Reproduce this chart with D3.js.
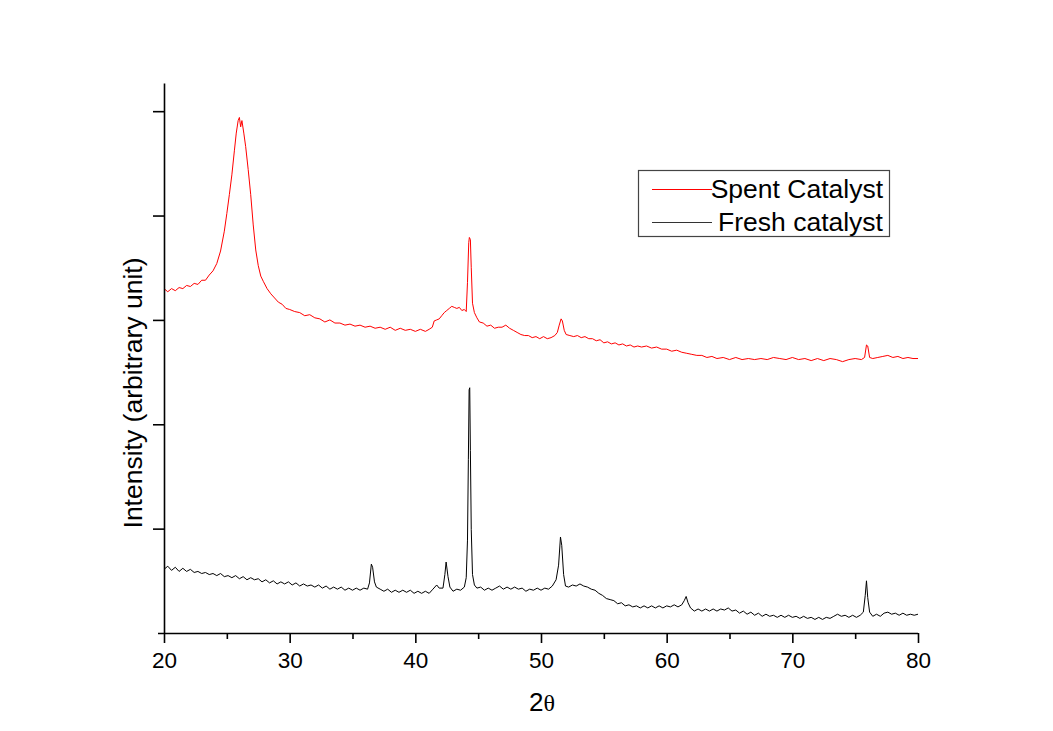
<!DOCTYPE html>
<html>
<head>
<meta charset="utf-8">
<script src="https://cdn.jsdelivr.net/npm/d3@7"></script>
<style>
  html, body { margin: 0; padding: 0; background: #fff; }
  svg { display: block; }
  text { font-family: "Liberation Sans", Arial, sans-serif; fill: #000; }
</style>
</head>
<body>
<svg id="chart" width="1053" height="731"></svg>
<script>
// ---- data (2θ in degrees, intensity in arbitrary units) ----
const xTicks = [20, 30, 40, 50, 60, 70, 80];
const xMinorTicks = [25, 35, 45, 55, 65, 75];
const yTicks = [100, 200, 300, 400, 500];
const seriesNames = ["Spent Catalyst", "Fresh catalyst"];

const spent = [
  [20.0,330],[20.3,327],[20.6,330],[20.9,328],[21.2,331],[21.5,330],[21.8,333],[22.1,332],
  [22.4,335],[22.7,334],[23.0,338],[23.3,338],[23.6,343],[23.9,347],[24.2,354],[24.5,366],
  [24.8,385],[25.0,402],[25.2,420],[25.4,439],[25.6,462],[25.75,479],[25.9,491],[26.0,494],
  [26.1,485],[26.2,491],[26.35,479],[26.5,466],[26.7,444],[26.9,420],[27.1,391],[27.3,367],
  [27.5,352],[27.7,342],[27.9,337],[28.2,330],[28.5,325],[28.8,321],[29.1,317],[29.4,315],
  [29.7,311],[30.0,310],[30.4,308],[30.8,307],[31.2,304],[31.6,305],[32.0,302],[32.4,301],
  [32.8,298],[33.2,300],[33.6,297],[34.0,297],[34.4,295],[34.8,296],[35.2,294],[35.6,295],
  [36.0,293],[36.4,294],[36.8,292],[37.2,293],[37.6,291],[38.0,293],[38.4,290],[38.8,292],
  [39.2,290],[39.6,291],[40.0,289],[40.4,291],[40.8,289],[41.1,291],[41.35,293],[41.5,299],
  [41.7,300],[41.9,301],[42.1,304],[42.3,307],[42.5,309],[42.7,311],[42.9,313],[43.1,312],
  [43.3,311],[43.5,312],[43.7,309],[43.9,310],[44.05,308],[44.15,336],[44.25,374],[44.3,379],
  [44.38,377],[44.45,350],[44.55,316],[44.7,307],[44.9,302],[45.1,298],[45.4,297],[45.7,294],
  [46.0,295],[46.3,292],[46.6,293],[46.9,293],[47.2,295],[47.5,292],[47.8,290],[48.1,288],
  [48.4,286],[48.7,285],[49.0,285],[49.3,283],[49.6,284],[49.9,282],[50.2,284],[50.5,282],
  [50.8,283],[51.1,285],[51.3,288],[51.45,295],[51.6,301],[51.7,299],[51.85,290],[52.0,286],
  [52.3,285],[52.6,284],[52.9,285],[53.2,283],[53.5,284],[53.8,282],[54.1,282],[54.4,280],
  [54.7,281],[55.0,278],[55.3,279],[55.6,277],[55.9,278],[56.2,276],[56.5,277],[56.8,275],
  [57.1,276],[57.4,274],[57.7,275],[58.0,274],[58.4,275],[58.8,273],[59.2,274],[59.6,272],
  [60.0,272],[60.4,270],[60.8,271],[61.2,269],[61.6,268],[62.0,267],[62.4,266],[62.8,266],
  [63.2,264],[63.6,265],[64.0,263],[64.5,264],[65.0,262],[65.5,264],[66.0,262],[66.5,263],
  [67.0,262],[67.5,263],[68.0,262],[68.5,264],[69.0,263],[69.5,262],[70.0,264],[70.5,262],
  [71.0,263],[71.5,261],[72.0,263],[72.5,261],[73.0,263],[73.5,262],[74.0,260],[74.5,262],
  [75.0,263],[75.5,262],[75.75,264],[75.9,276],[76.0,275],[76.15,264],[76.4,263],[76.8,264],
  [77.2,265],[77.6,266],[78.0,264],[78.4,265],[78.8,263],[79.2,264],[79.6,263],[80.0,263]
];

const fresh = [
  [20.0,61],[20.3,64],[20.6,60],[20.9,63],[21.2,59],[21.5,62],[21.8,59],[22.1,61],
  [22.4,58],[22.7,59],[23.0,57],[23.3,58],[23.6,56],[23.9,57],[24.2,55],[24.5,57],
  [24.8,54],[25.1,55],[25.4,53],[25.7,55],[26.0,52],[26.3,54],[26.6,51],[26.9,53],
  [27.2,51],[27.5,52],[27.8,49],[28.1,51],[28.4,48],[28.7,50],[29.0,47],[29.3,49],
  [29.6,47],[29.9,49],[30.2,46],[30.5,48],[30.8,45],[31.1,47],[31.4,45],[31.7,46],
  [32.0,44],[32.3,46],[32.6,43],[32.9,45],[33.2,42],[33.5,44],[33.8,42],[34.1,44],
  [34.4,41],[34.7,43],[35.0,41],[35.3,43],[35.6,41],[35.9,43],[36.2,42],[36.35,48],
  [36.5,66],[36.6,63],[36.75,49],[36.9,44],[37.2,42],[37.5,40],[37.8,42],[38.1,39],
  [38.4,41],[38.7,39],[39.0,41],[39.3,39],[39.6,41],[39.9,38],[40.2,40],[40.5,38],
  [40.8,40],[41.1,38],[41.4,42],[41.7,46],[41.9,43],[42.2,43],[42.35,56],[42.45,68],
  [42.6,54],[42.75,44],[43.0,40],[43.3,42],[43.6,41],[43.9,44],[44.05,53],[44.15,89],
  [44.22,166],[44.28,233],[44.33,235],[44.38,175],[44.45,99],[44.55,56],[44.7,46],[44.9,43],
  [45.2,44],[45.5,41],[45.8,43],[46.1,41],[46.4,43],[46.7,45],[47.0,42],[47.3,44],
  [47.6,42],[47.9,44],[48.2,42],[48.5,43],[48.8,40],[49.1,42],[49.4,41],[49.7,43],
  [50.0,41],[50.3,43],[50.6,42],[50.9,45],[51.2,51],[51.4,65],[51.55,92],[51.65,84],
  [51.8,56],[51.95,45],[52.2,44],[52.5,46],[52.8,45],[53.1,47],[53.4,45],[53.7,44],
  [54.0,42],[54.3,41],[54.6,38],[54.9,36],[55.2,33],[55.5,32],[55.8,31],[56.1,28],
  [56.4,29],[56.7,26],[57.0,27],[57.3,25],[57.6,26],[57.9,24],[58.2,26],[58.5,24],
  [58.8,26],[59.1,24],[59.4,26],[59.7,24],[60.0,26],[60.3,25],[60.6,27],[60.9,25],
  [61.2,27],[61.4,31],[61.55,35],[61.7,29],[61.9,24],[62.2,21],[62.5,23],[62.8,21],
  [63.1,23],[63.4,21],[63.7,23],[64.0,21],[64.3,23],[64.6,22],[64.9,24],[65.2,21],
  [65.5,22],[65.8,19],[66.1,21],[66.4,18],[66.7,20],[67.0,17],[67.3,19],[67.6,16],
  [67.9,18],[68.2,16],[68.5,17],[68.8,15],[69.1,17],[69.4,15],[69.7,17],[70.0,15],
  [70.3,16],[70.6,14],[70.9,16],[71.2,14],[71.5,15],[71.8,13],[72.1,15],[72.4,13],
  [72.7,15],[73.0,14],[73.3,16],[73.6,18],[73.9,16],[74.2,17],[74.5,15],[74.8,17],
  [75.1,15],[75.4,17],[75.65,20],[75.8,36],[75.9,50],[76.0,34],[76.15,20],[76.4,16],
  [76.7,18],[77.0,16],[77.3,19],[77.6,20],[77.9,18],[78.2,19],[78.5,17],[78.8,19],
  [79.1,17],[79.4,18],[79.7,17],[80.0,18]
];

// ---- drawing ----
const svg = d3.select("#chart");
const x = d3.scaleLinear().domain([20, 80]).range([164, 918]);
const y = d3.scaleLinear().domain([0, 527]).range([633, 83]);

const line = d3.line().x(d => x(d[0])).y(d => y(d[1]));

// curves
svg.append("path").datum(fresh)
  .attr("fill", "none").attr("stroke", "#000").attr("stroke-width", 1)
  .attr("stroke-linejoin", "round").attr("d", line);
svg.append("path").datum(spent)
  .attr("fill", "none").attr("stroke", "#ff0000").attr("stroke-width", 1)
  .attr("stroke-linejoin", "round").attr("d", line);

// x axis (major)
const gx = svg.append("g").attr("transform", `translate(0,${y(0)})`)
  .call(d3.axisBottom(x).tickValues(xTicks).tickSize(10).tickSizeOuter(0).tickFormat(d3.format("d")));
gx.select(".domain").attr("d", `M${x(20) - 6},0.5H${x(80)}`).attr("stroke", "#000").attr("stroke-width", 1.6);
gx.selectAll(".tick line").attr("stroke", "#000").attr("stroke-width", 1.6);
gx.selectAll(".tick text").attr("y", 35).attr("dy", 0)
  .style("font-family", '"Liberation Sans", Arial, sans-serif').style("font-size", "22.5px").attr("fill", "#000");

// x axis minor ticks
const gxm = svg.append("g").attr("transform", `translate(0,${y(0)})`)
  .call(d3.axisBottom(x).tickValues(xMinorTicks).tickSize(6).tickSizeOuter(0).tickFormat(""));
gxm.select(".domain").remove();
gxm.selectAll(".tick line").attr("stroke", "#000").attr("stroke-width", 1.6);

// y axis
const gy = svg.append("g").attr("transform", `translate(${x(20)},0)`)
  .call(d3.axisLeft(y).tickValues(yTicks).tickSize(11).tickSizeOuter(0).tickFormat(""));
gy.select(".domain").attr("stroke", "#000").attr("stroke-width", 1.6);
gy.selectAll(".tick line").attr("stroke", "#000").attr("stroke-width", 1.6);

// axis titles
svg.append("text")
  .attr("transform", `translate(142,${(y(0) + y(527)) / 2 + 35}) rotate(-90)`)
  .attr("text-anchor", "middle")
  .style("font-size", "26.5px")
  .text("Intensity (arbitrary unit)");

const xt = svg.append("text")
  .attr("x", (x(20) + x(80)) / 2 + 1).attr("y", 711)
  .attr("text-anchor", "middle")
  .style("font-size", "26px");
xt.append("tspan").text("2");
xt.append("tspan").style("font-family", '"Liberation Serif", "DejaVu Serif", serif').style("font-size", "24px").text("θ");

// legend
const lg = svg.append("g");
lg.append("rect").attr("x", 638.5).attr("y", 170.5).attr("width", 251).attr("height", 66)
  .attr("fill", "#fff").attr("stroke", "#444").attr("stroke-width", 1.2);
lg.append("line").attr("x1", 652).attr("x2", 712).attr("y1", 189.5).attr("y2", 189.5)
  .attr("stroke", "#ff0000").attr("stroke-width", 1);
lg.append("line").attr("x1", 652).attr("x2", 712).attr("y1", 222.5).attr("y2", 222.5)
  .attr("stroke", "#333").attr("stroke-width", 1);
lg.append("text").attr("x", 883).attr("y", 198).attr("text-anchor", "end")
  .style("font-size", "26.5px").text(seriesNames[0]);
lg.append("text").attr("x", 883).attr("y", 231).attr("text-anchor", "end")
  .style("font-size", "26.5px").text(seriesNames[1]);
</script>
</body>
</html>
